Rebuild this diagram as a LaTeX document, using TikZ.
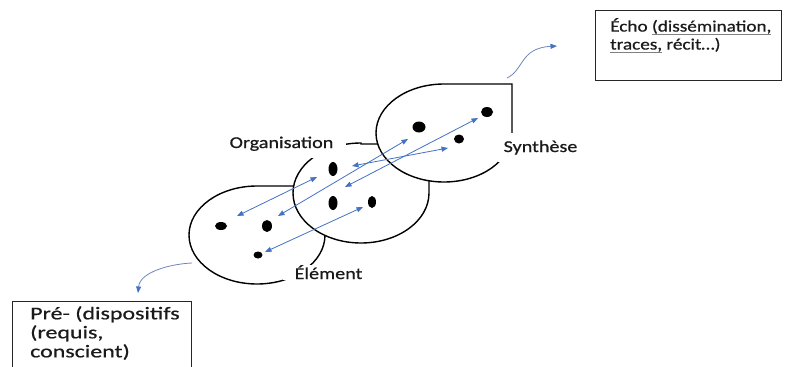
\documentclass[tikz,border=0pt]{standalone}
\usepackage{fontspec}
\setmainfont{Carlito}
\newfontfamily\fLbl[FakeStretch=1.22,FakeBold=0.7]{Carlito}
\newfontfamily\fEcho[FakeStretch=1.2,FakeBold=0.6]{Carlito}
\newfontfamily\fPre[FakeStretch=1.33,FakeBold=0.6]{Carlito}
\usetikzlibrary{arrows.meta,shapes.geometric}
\definecolor{arrblue}{HTML}{4472C4}
\definecolor{curlblue}{HTML}{6F86B8}
\definecolor{txt}{HTML}{1A1A1A}
\newsavebox\gulbox
\newcommand\gul[1]{\sbox\gulbox{#1}\rlap{\textcolor{gray}{\rule[-0.22em]{\wd\gulbox}{0.9pt}}}\usebox\gulbox}
\begin{document}
\begin{tikzpicture}[x=1pt,y=-1pt,
  drop/.style={draw=black, line width=1.4pt, fill=white},
  lbl/.style={fill=white, text=txt, anchor=base, font=\fLbl\fontsize{16.5pt}{18pt}\selectfont},
  link/.style={draw=arrblue, line width=0.8pt, {Triangle[length=6.5pt,width=5pt]}-{Triangle[length=6.5pt,width=5pt]}},
  curl/.style={draw=curlblue, line width=0.8pt, -{Triangle[length=6.5pt,width=5pt,color=arrblue]}},
  dot/.style={ellipse, fill=black, inner sep=0pt},
  boxframe/.style={draw=black!85, line width=1pt, inner sep=0pt, anchor=north west}
]
\useasboundingbox (0,0) rectangle (785,367);
\clip (0,0) rectangle (785,367);

% teardrop shapes
\draw[drop] (257,186) -- (325,186) -- (325,235) arc[start angle=0,end angle=270,x radius=68,y radius=49] -- cycle;
\draw[drop] (361,144) -- (429,144) -- (429,193) arc[start angle=0,end angle=270,x radius=68,y radius=50] -- cycle;
\draw[drop] (444,84) -- (512,84) -- (512,133) arc[start angle=0,end angle=270,x radius=68,y radius=49] -- cycle;

% labels
\node[lbl, inner xsep=13pt, inner ysep=7pt] (org) at (281.5,148) {Organisation};
\node[lbl, inner xsep=6pt, inner ysep=7.5pt] (syn) at (540.5,152) {Synthèse};
\node[lbl, inner xsep=12pt, inner ysep=0.5pt] (ele) at (328.5,279) {Élément};

% dots
\node[dot, minimum width=12pt, minimum height=8pt] (d1) at (221,226) {};
\node[dot, minimum width=10pt, minimum height=12pt] (d2) at (267,226) {};
\node[dot, minimum width=9pt, minimum height=7pt] (d3) at (258,255) {};
\node[dot, minimum width=9pt, minimum height=14pt] (d4) at (333,169) {};
\node[dot, minimum width=9pt, minimum height=14pt] (d5) at (333,203) {};
\node[dot, minimum width=8pt, minimum height=12pt] (d6) at (372,202) {};
\node[dot, minimum width=13pt, minimum height=11pt] (d7) at (419,127) {};
\node[dot, minimum width=10pt, minimum height=9pt] (d8) at (459,139) {};
\node[dot, minimum width=12pt, minimum height=10pt] (d9) at (487,112) {};

% double arrows
\coordinate (a1s) at (237,216); \coordinate (a1e) at (317,177);
\coordinate (a2s) at (278,216); \coordinate (a2e) at (408,139);
\coordinate (a3s) at (265,252); \coordinate (a3e) at (363,207);
\coordinate (a4s) at (352,166); \coordinate (a4e) at (448,148);
\coordinate (a5s) at (345,187); \coordinate (a5e) at (478,118);
\draw[link] (a1s) -- (a1e);
\draw[link] (a2s) -- (a2e);
\draw[link] (a3s) -- (a3e);
\draw[link] (a4s) -- (a4e);
\draw[link] (a5s) -- (a5e);

% curly arrows
\coordinate (c1s) at (507,78); \coordinate (c1e) at (557,46);
\draw[curl] (c1s) .. controls (524,70) and (520,48) .. (c1e);
\coordinate (c2s) at (192,263); \coordinate (c2e) at (138,293);
\draw[curl] (c2s) .. controls (170,264) and (140,272) .. (c2e);

% text boxes
\node[boxframe, minimum width=186pt, minimum height=70pt] (echobox) at (595,10) {};
\node[anchor=north west, align=left, inner sep=0pt, text=txt,
  font=\fEcho\fontsize{16pt}{18pt}\selectfont] (echo) at (610,18)
  {Écho \gul{(dissémination,}\\\gul{traces,} récit…)};
\node[boxframe, minimum width=179pt, minimum height=100pt] (prebox) at (12,301) {};
\node[anchor=north west, align=left, inner sep=0pt, text=txt,
  font=\fPre\fontsize{18pt}{19pt}\selectfont] (pre) at (30,306)
  {Pré- (dispositifs\\(requis,\\conscient)};
\end{tikzpicture}
\end{document}
